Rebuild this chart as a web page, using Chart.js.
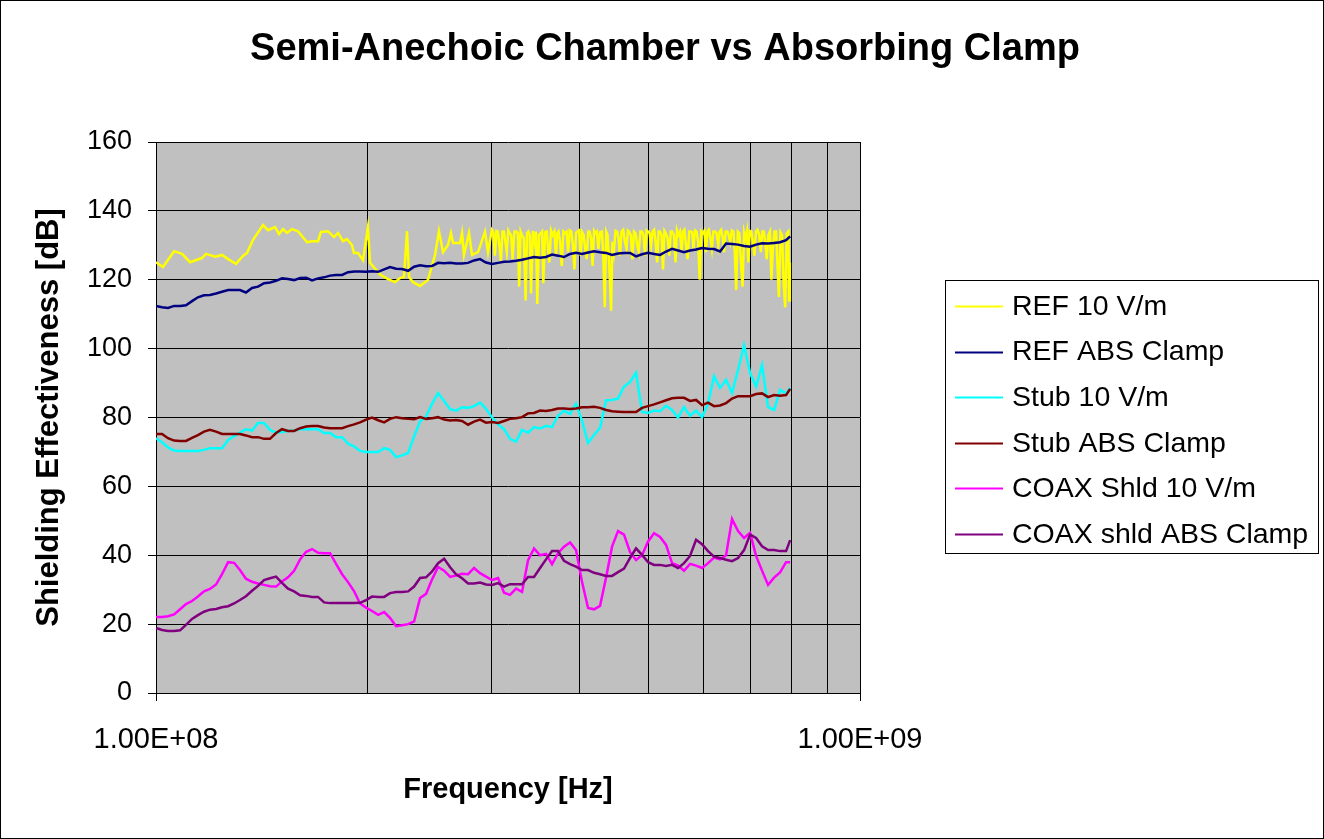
<!DOCTYPE html>
<html>
<head>
<meta charset="utf-8">
<title>Semi-Anechoic Chamber vs Absorbing Clamp</title>
<script src="https://cdn.jsdelivr.net/npm/chart.js@4.4.1/dist/chart.umd.min.js"></script>
<style>
  html, body { margin: 0; padding: 0; background: #fff; overflow: hidden; }
  canvas { display: block; }
</style>
</head>
<body>
<canvas id="chart" width="1324" height="839"></canvas>
<script>
const FONT = '"Liberation Sans", Arial, sans-serif';

const chartTitle = "Semi-Anechoic Chamber vs Absorbing Clamp";
const xTitle = "Frequency [Hz]";
const yTitle = "Shielding Effectiveness [dB]";
const xGridValues = [1e8, 2e8, 3e8, 4e8, 5e8, 6e8, 7e8, 8e8, 9e8, 1e9];
const xTickValues = [1e8, 1e9];
const xTickLabels = ["1.00E+08", "1.00E+09"];
const yTicks = [0, 20, 40, 60, 80, 100, 120, 140, 160];

const seriesNames = ["REF 10 V/m", "REF ABS Clamp", "Stub 10 V/m", "Stub ABS Clamp", "COAX Shld 10 V/m", "COAX shld ABS Clamp"];
const seriesColors = ["#ffff00", "#000080", "#00ffff", "#800000", "#ff00ff", "#800080"];

// frequencies in MHz shared by the five smoother series
const freqMHz = [
  100, 102.0, 104.0, 106.1, 108.2, 110.3, 112.5, 114.7, 117.0, 119.3,
  121.7, 124.1, 126.6, 129.1, 131.6, 134.2, 136.9, 139.6, 142.4, 145.2,
  148.1, 151.0, 154.0, 157.1, 160.2, 163.4, 166.6, 169.9, 173.3, 176.7,
  180.2, 183.8, 187.4, 191.2, 194.9, 198.8, 202.7, 206.8, 210.9, 215.0,
  219.3, 223.6, 228.1, 232.6, 237.2, 241.9, 246.7, 251.6, 256.6, 261.7,
  266.8, 272.1, 277.5, 283.0, 288.6, 294.3, 300.2, 306.1, 312.2, 318.3,
  324.7, 331.1, 337.6, 344.3, 351.2, 358.1, 365.2, 372.5, 379.8, 387.4,
  395.0, 402.9, 410.9, 419.0, 427.3, 435.8, 444.4, 453.2, 462.2, 471.4,
  480.7, 490.2, 500.0, 509.9, 520.0, 530.3, 540.8, 551.5, 562.4, 573.6,
  585.0, 596.5, 608.4, 620.4, 632.7, 645.3, 658.0, 671.1, 684.4, 698.0,
  711.8, 725.9, 740.3, 755.0, 769.9, 785.2, 795.7
];

const refAbs = [
  112.4, 112.0, 111.8, 112.4, 112.4, 112.6, 113.8, 114.9, 115.5, 115.6,
  116.0, 116.5, 117.0, 117.0, 117.0, 116.3, 117.6, 118.0, 119.0, 119.2,
  119.7, 120.4, 120.2, 119.9, 120.5, 120.6, 119.8, 120.4, 120.7, 121.2,
  121.4, 121.4, 122.2, 122.4, 122.4, 122.3, 122.5, 122.3, 123.0, 123.7,
  123.2, 123.1, 122.6, 123.8, 124.2, 123.9, 124.0, 124.9, 124.8, 124.9,
  124.7, 124.7, 124.9, 125.6, 126.0, 125.0, 124.6, 124.9, 125.2, 125.3,
  125.5, 125.8, 126.2, 126.6, 126.4, 126.6, 127.3, 127.0, 126.6, 127.5,
  127.8, 127.5, 127.9, 128.3, 128.0, 127.8, 127.2, 127.6, 127.8, 127.8,
  126.8, 127.4, 127.8, 127.5, 127.2, 128.2, 129.0, 128.5, 128.0, 128.5,
  128.8, 129.2, 129.0, 128.9, 128.2, 130.5, 130.4, 130.2, 129.8, 129.6,
  130.2, 130.6, 130.5, 130.7, 130.9, 131.5, 132.6
];

const stub10 = [
  74.0, 72.8, 71.3, 70.4, 70.3, 70.3, 70.3, 70.3, 70.6, 71.1,
  71.1, 71.1, 73.5, 74.6, 75.6, 76.6, 76.2, 78.4, 78.4, 76.4,
  75.6, 75.8, 76.1, 76.2, 76.6, 76.6, 76.6, 76.6, 75.5, 75.5,
  74.3, 74.3, 72.4, 71.6, 70.3, 70.0, 70.0, 70.0, 71.1, 70.6,
  68.5, 69.0, 69.7, 74.5, 78.9, 80.3, 84.0, 87.1, 84.8, 82.4,
  82.0, 83.0, 82.8, 83.3, 84.3, 82.5, 80.0, 78.0, 76.6, 73.8,
  73.0, 76.4, 75.6, 77.2, 76.8, 77.6, 77.2, 80.5, 82.0, 81.0,
  84.0, 79.0, 72.6, 74.9, 77.0, 85.0, 85.1, 85.5, 89.0, 90.3,
  93.0, 81.6, 81.3, 82.0, 81.8, 83.4, 82.2, 80.0, 83.0, 80.5,
  82.0, 80.1, 84.0, 92.0, 88.6, 91.0, 87.1, 93.8, 101.0, 92.9,
  89.0, 95.2, 83.0, 82.2, 88.0, 87.0, 88.6
];

const stubAbs = [
  75.2, 75.2, 74.0, 73.3, 73.2, 73.2, 74.1, 74.9, 75.9, 76.4,
  75.9, 75.2, 75.2, 75.2, 75.2, 74.8, 74.3, 74.3, 73.8, 73.8,
  75.5, 76.6, 76.1, 76.1, 76.9, 77.4, 77.5, 77.5, 77.1, 76.9,
  76.9, 76.9, 77.5, 78.0, 78.6, 79.4, 80.0, 79.2, 78.6, 79.6,
  80.1, 79.8, 79.6, 79.5, 80.1, 79.6, 79.8, 80.1, 79.4, 79.1,
  79.3, 79.0, 77.9, 78.8, 79.4, 78.5, 78.7, 78.4, 79.0, 79.6,
  79.8, 80.1, 81.2, 81.3, 82.0, 81.9, 82.2, 82.6, 82.6, 82.5,
  82.6, 83.0, 83.0, 83.1, 82.8, 82.2, 81.8, 81.7, 81.6, 81.6,
  81.6, 82.8, 83.3, 83.8, 84.4, 85.0, 85.6, 85.7, 85.7, 84.8,
  85.1, 83.6, 84.3, 83.3, 83.5, 84.2, 85.5, 86.2, 86.2, 86.2,
  86.8, 87.0, 85.9, 86.5, 86.3, 86.5, 88.3
];

const coax10 = [
  22.1, 22.1, 22.3, 22.8, 24.3, 25.8, 26.7, 28.0, 29.5, 30.2,
  31.5, 34.5, 38.0, 37.8, 35.7, 33.2, 32.3, 31.8, 31.4, 31.0,
  30.9, 32.4, 33.6, 35.5, 38.8, 41.0, 41.8, 40.7, 40.6, 40.6,
  37.5, 34.5, 32.2, 29.5, 26.0, 24.8, 23.8, 22.7, 23.5, 21.8,
  19.4, 19.7, 20.0, 20.8, 27.6, 28.8, 33.0, 36.6, 35.5, 33.7,
  34.1, 34.6, 34.5, 36.3, 34.8, 33.8, 32.8, 33.4, 29.1, 28.5,
  30.3, 29.4, 38.5, 42.0, 40.0, 40.4, 37.4, 40.6, 42.5, 43.7,
  41.5, 32.2, 24.7, 24.3, 25.3, 33.5, 42.5, 47.0, 46.0, 40.9,
  38.6, 40.0, 44.0, 46.4, 45.3, 43.0, 37.7, 37.0, 35.5, 37.5,
  37.0, 36.3, 37.7, 39.3, 38.8, 40.0, 50.5, 47.0, 45.0, 46.5,
  39.8, 35.5, 31.4, 33.5, 35.0, 38.0, 38.0
];

const coaxAbs = [
  18.9, 18.3, 18.0, 18.0, 18.2, 19.8, 21.5, 22.6, 23.6, 24.2,
  24.4, 24.9, 25.2, 26.0, 27.0, 28.1, 29.7, 31.1, 32.8, 33.3,
  33.8, 32.0, 30.3, 29.5, 28.4, 28.2, 27.9, 27.9, 26.3, 26.1,
  26.1, 26.1, 26.1, 26.1, 26.2, 27.0, 28.0, 27.9, 27.9, 29.0,
  29.3, 29.3, 29.5, 30.9, 33.4, 33.6, 35.3, 37.7, 39.0, 36.5,
  34.5, 33.3, 31.8, 31.8, 32.1, 31.5, 31.4, 31.9, 30.9, 31.6,
  31.6, 31.6, 33.7, 33.7, 36.3, 38.8, 41.2, 41.2, 38.4, 37.4,
  36.7, 35.7, 35.7, 34.9, 34.5, 34.0, 34.0, 35.1, 36.1, 39.2,
  42.0, 40.1, 38.0, 37.2, 37.2, 36.9, 37.2, 36.3, 37.7, 39.8,
  44.5, 43.2, 41.2, 39.6, 39.2, 38.7, 38.3, 39.2, 41.5, 46.0,
  45.0, 42.6, 41.5, 41.5, 41.2, 41.2, 44.4
];

// the REF 10 V/m trace is much noisier, so it has its own denser frequency list (MHz)
const ref10Freq = [
  100, 102.3, 106.1, 108.9, 111.8, 116.2, 117.8, 121.3, 124.1, 126.6,
  129.9, 132.9, 134.7, 137.3, 141.9, 144.2, 147.6, 149.5, 151.5, 153.5,
  156.0, 159.1, 163.9, 166.6, 169.9, 171.5, 175.5, 179.0, 181.4, 184.3,
  186.8, 189.8, 191.1, 193.6, 196.8, 200.0, 201.4, 208.1, 213.6, 218.5,
  222.1, 225.0, 227.3, 228.8, 231.8, 237.1, 243.4, 249.1, 252.3, 255.7,
  259.9, 262.4, 264.2, 270.3, 272.1, 273.8, 278.4, 281.1, 286.7, 293.3,
  296.2,
  300, 301.5, 303, 304.5, 306, 307.5, 309, 310.5, 312, 313.5,
  315, 316.5, 318, 319.5, 321, 323, 325, 326.5, 328, 329.5,
  331, 333, 335, 336.5, 338, 339.5, 341, 343, 345, 346.5,
  348, 350, 352, 353.5, 355, 357, 359, 360.5, 362, 364,
  366, 368, 370, 371.5, 373, 375, 377, 379, 381, 383,
  385, 387, 389, 391, 393, 395, 397, 399, 401, 403,
  405, 407, 409, 411, 413, 415, 417, 419, 421, 423,
  425, 427.5, 430, 432, 434, 436, 438, 440.5, 443, 445,
  447, 449.5, 452, 454, 456, 458.5, 461, 463.5, 466, 468,
  470, 472.5, 475, 477.5, 480, 482.5, 485, 487.5, 490, 492.5,
  495, 497.5, 500, 502.5, 505, 507.5, 510, 512.5, 515, 517.5,
  520, 522.5, 525, 527.5, 530, 533, 536, 538.5, 541, 544,
  547, 549.5, 552, 555, 558, 560.5, 563, 566, 569, 572,
  575, 577.5, 580, 583, 586, 589, 592, 595, 598, 601,
  604, 607, 610, 613, 616, 619, 622, 625.5, 629, 632,
  635, 638, 641, 644.5, 648, 651, 654, 657.5, 661, 664,
  667, 670.5, 674, 677.5, 681, 684.5, 688, 691, 694, 697.5,
  701, 704.5, 708, 711.5, 715, 719, 723, 726.5, 730, 733.5,
  737, 741, 745, 748.5, 752, 756, 760, 763.5, 767, 771,
  775, 779, 783, 787, 791, 793, 795
];

const ref10 = [
  125.1, 123.7, 128.3, 127.5, 125.1, 126.3, 127.5, 126.7, 127.2, 126.0,
  124.6, 126.9, 127.8, 131.5, 135.9, 134.4, 135.3, 133.3, 134.7, 133.6,
  134.7, 134.1, 130.9, 131.2, 131.2, 133.9, 134.1, 132.4, 133.6, 131.2,
  131.8, 130.1, 127.8, 127.8, 125.7, 135.3, 124.9, 121.5, 120.2, 119.3,
  120.5, 120.8, 134.1, 120.8, 119.3, 118.2, 119.9, 127.2, 134.1, 128.0,
  130.1, 133.6, 130.7, 130.7, 133.6, 127.2, 133.6, 127.2, 128.0, 133.9,
  128.0,
  134.5, 133.8, 127, 134.2, 134, 130, 125.5, 134, 134, 131,
  128, 134.3, 133.5, 133, 126, 134, 134, 133.6, 118, 134,
  133, 132, 114, 133.5, 134, 133, 116, 134.2, 131, 134,
  113, 133, 133.5, 134, 119, 133.8, 134, 129, 125, 134.3,
  133, 134, 127, 133.5, 134, 131, 124, 134, 133.5, 133.9,
  128, 134.3, 134, 130, 123, 133.7, 134, 134.3, 127, 133.8,
  133, 129, 126, 134, 134, 132, 124, 134.2, 133.5, 134,
  129, 133.8, 134, 126, 112, 134, 133, 124, 111, 131,
  128, 134.2, 134, 132, 127, 134, 134.5, 131, 129, 134.3,
  134, 133, 126, 134, 133.5, 130, 128, 134, 134, 133,
  127, 134.3, 134, 133.5, 130, 134, 134.5, 131, 125, 134,
  134, 133, 123, 134.2, 133.5, 132, 127, 134, 134, 133,
  125, 134.3, 133, 134, 128, 134, 134.5, 130, 126, 134,
  134, 133.8, 129, 134.3, 134, 131, 120, 134, 133.5, 134.2,
  128, 134, 134.5, 132, 129, 134, 134, 133.6, 130, 134,
  134.5, 132.5, 128, 134, 134, 133, 131, 134.3, 134, 128,
  117, 134, 133.5, 125, 118, 133.8, 132, 134, 125, 134.2,
  134, 131, 127, 134, 134.5, 133.2, 128, 134, 134, 131,
  126, 133, 134, 120, 129, 134, 134, 124, 115, 133.8,
  133, 119, 112, 133.5, 134, 114, 125
];

function toPoints(freqs, values) {
  return freqs.map((f, i) => ({ x: f * 1e6, y: values[i] }));
}

const seriesData = [
  toPoints(ref10Freq, ref10),
  toPoints(freqMHz, refAbs),
  toPoints(freqMHz, stub10),
  toPoints(freqMHz, stubAbs),
  toPoints(freqMHz, coax10),
  toPoints(freqMHz, coaxAbs)
];

function isDecade(v) {
  return xTickValues.indexOf(v) !== -1;
}

// plot background, outer frame, title and the boxed legend
const excelLook = {
  id: "excelLook",
  beforeDraw(chart) {
    const { ctx, chartArea: a } = chart;
    ctx.save();
    ctx.fillStyle = "#ffffff";
    ctx.fillRect(0, 0, chart.width, chart.height);
    ctx.fillStyle = "#c0c0c0";
    ctx.fillRect(a.left, a.top, a.right - a.left, a.bottom - a.top);
    ctx.restore();
  },
  afterDraw(chart) {
    const { ctx } = chart;
    ctx.save();
    ctx.strokeStyle = "#000";
    ctx.lineWidth = 1;
    ctx.strokeRect(0.5, 0.5, chart.width - 1, chart.height - 1);

    ctx.fillStyle = "#000";
    ctx.font = "bold 38px " + FONT;
    ctx.textAlign = "center";
    ctx.textBaseline = "middle";
    ctx.fillText(chartTitle, 665, 50);

    ctx.strokeRect(945.5, 280.5, 373, 273);
    ctx.font = "28.5px " + FONT;
    ctx.textAlign = "left";
    chart.data.datasets.forEach((ds, i) => {
      const y = 306 + i * 45.6;
      ctx.strokeStyle = ds.borderColor;
      ctx.lineWidth = 2;
      ctx.beginPath();
      ctx.moveTo(955, Math.round(y) + 0.5);
      ctx.lineTo(1003, Math.round(y) + 0.5);
      ctx.stroke();
      ctx.fillStyle = "#000";
      ctx.fillText(ds.label, 1012, y + 1);
    });
    ctx.restore();
  }
};

Chart.defaults.color = "#000";
Chart.defaults.font.family = FONT;

new Chart(document.getElementById("chart").getContext("2d"), {
  type: "line",
  data: {
    datasets: seriesNames.map((name, i) => ({
      label: name,
      data: seriesData[i],
      borderColor: seriesColors[i],
      backgroundColor: seriesColors[i],
      borderWidth: 2.5,
      pointRadius: 0,
      fill: false,
      tension: 0,
      order: seriesNames.length - i
    }))
  },
  options: {
    responsive: false,
    animation: false,
    devicePixelRatio: 1,
    layout: { padding: { left: 0, top: 142, right: 464, bottom: 0 } },
    plugins: {
      legend: { display: false },
      title: { display: false },
      tooltip: { enabled: false }
    },
    scales: {
      x: {
        type: "logarithmic",
        min: 1e8,
        max: 1e9,
        afterFit: (scale) => { scale.height = 146; },
        afterBuildTicks: (scale) => { scale.ticks = xGridValues.map((v) => ({ value: v })); },
        grid: {
          color: "#000",
          lineWidth: 1,
          tickLength: 8,
          tickColor: (ctx) => (ctx.tick && isDecade(ctx.tick.value) ? "#000" : "rgba(0,0,0,0)")
        },
        border: { color: "#000", width: 1 },
        ticks: {
          autoSkip: false,
          maxRotation: 0,
          padding: 22,
          font: { size: 29 },
          callback: (v) => {
            const k = xTickValues.indexOf(v);
            return k === -1 ? "" : xTickLabels[k];
          }
        },
        title: {
          display: true,
          text: xTitle,
          font: { size: 29, weight: "bold" },
          padding: { top: 0, bottom: 32 }
        }
      },
      y: {
        min: yTicks[0],
        max: yTicks[yTicks.length - 1],
        afterFit: (scale) => { scale.width = 156; },
        afterBuildTicks: (scale) => { scale.ticks = yTicks.map((v) => ({ value: v })); },
        grid: { color: "#000", lineWidth: 1, tickLength: 8, tickColor: "#000" },
        border: { color: "#000", width: 1 },
        ticks: { padding: 16, font: { size: 27 } },
        title: {
          display: true,
          text: yTitle,
          font: { size: 31, weight: "bold" },
          padding: { top: 31, bottom: 0 }
        }
      }
    }
  },
  plugins: [excelLook]
});
</script>
</body>
</html>
